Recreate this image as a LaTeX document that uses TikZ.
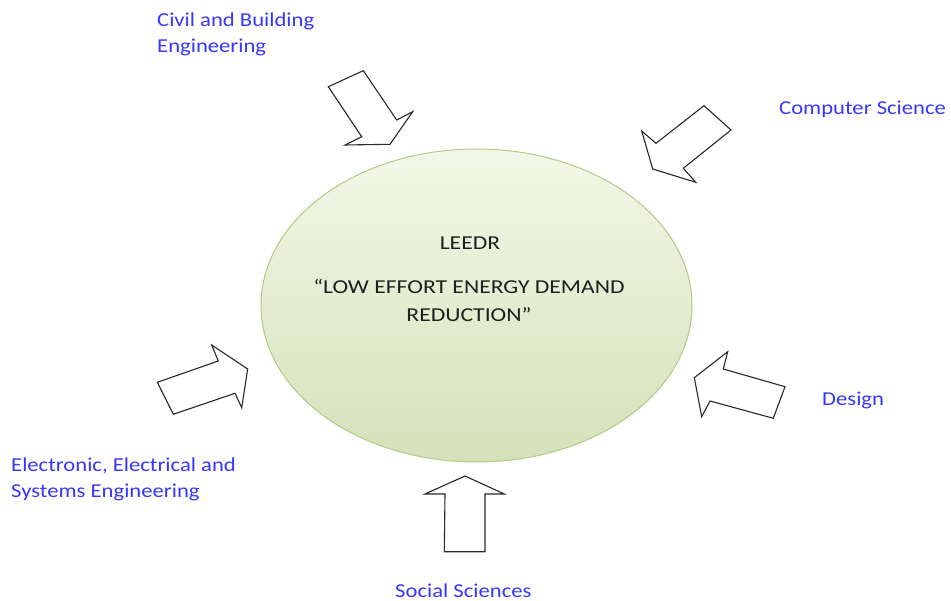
\documentclass[tikz,border=0pt]{standalone}
\usepackage{fontspec}
\setmainfont{Carlito}
\newfontfamily\labfont[FakeStretch=1.15]{Carlito}
\newfontfamily\corefont[FakeStretch=1.2]{Carlito}
\usetikzlibrary{shapes.geometric}
\definecolor{labblue}{RGB}{55,55,250}
\definecolor{elltop}{RGB}{243,247,232}
\definecolor{ellbot}{RGB}{212,226,186}
\definecolor{ellline}{RGB}{176,203,130}
\definecolor{arrline}{RGB}{40,40,40}
\begin{document}
\begin{tikzpicture}[x=1pt,y=-1pt,
  lab/.style={font=\labfont\fontsize{19.7}{26.5}\selectfont, text=labblue, inner sep=0pt, align=left, anchor=base west},
  coretext/.style={font=\corefont\fontsize{19.7}{28.4}\selectfont, text=black!88, inner sep=0pt, align=center, anchor=base},
  bigarrow/.style={draw=arrline, line width=1.1pt, fill=white, line join=miter}
]
\useasboundingbox (0,0) rectangle (951,601);

% central ellipse
\node[ellipse, draw=ellline, line width=1pt, top color=elltop, bottom color=ellbot,
      minimum width=431pt, minimum height=313pt, inner sep=0pt] (core) at (476.5,305.5) {};
\node[coretext] (leedr) at (470,249.3) {LEEDR};
\node[coretext] (title) at (469,321.7) {“LOW EFFORT ENERGY DEMAND\\REDUCTION”};

% block arrows
\draw[bigarrow] (328.3,86.7) -- (363.3,70.7) -- (396.7,120) -- (412.7,111.7) -- (390,144.3) -- (345,145) -- (361.7,136.7) -- cycle;
\draw[bigarrow] (656,143.3) -- (704,105.7) -- (731,130) -- (683.3,168.3) -- (695.7,182.3) -- (652.7,169) -- (641.7,131) -- cycle;
\draw[bigarrow] (157.3,382.3) -- (218.3,361) -- (211.7,345) -- (247.7,369) -- (241.7,407.7) -- (235,393.3) -- (173.3,414.3) -- cycle;
\draw[bigarrow] (727.7,351.7) -- (723.3,369) -- (785,386.7) -- (773.3,418.3) -- (710,401) -- (701.7,416.7) -- (694.3,377.7) -- cycle;
\draw[bigarrow] (465,476) -- (504.3,494) -- (485,494) -- (485,551.7) -- (444.3,551.7) -- (445,494) -- (425,494) -- cycle;

% labels
\node[lab] (civil) at (157,53) {Civil and Building\\Engineering};
\node[lab] (cs) at (779,115) {Computer Science};
\node[lab] (design) at (822,406) {Design};
\node[lab] (eese) at (11,498) {Electronic, Electrical and\\Systems Engineering};
\node[lab] (social) at (395,597) {Social Sciences};
\end{tikzpicture}
\end{document}
